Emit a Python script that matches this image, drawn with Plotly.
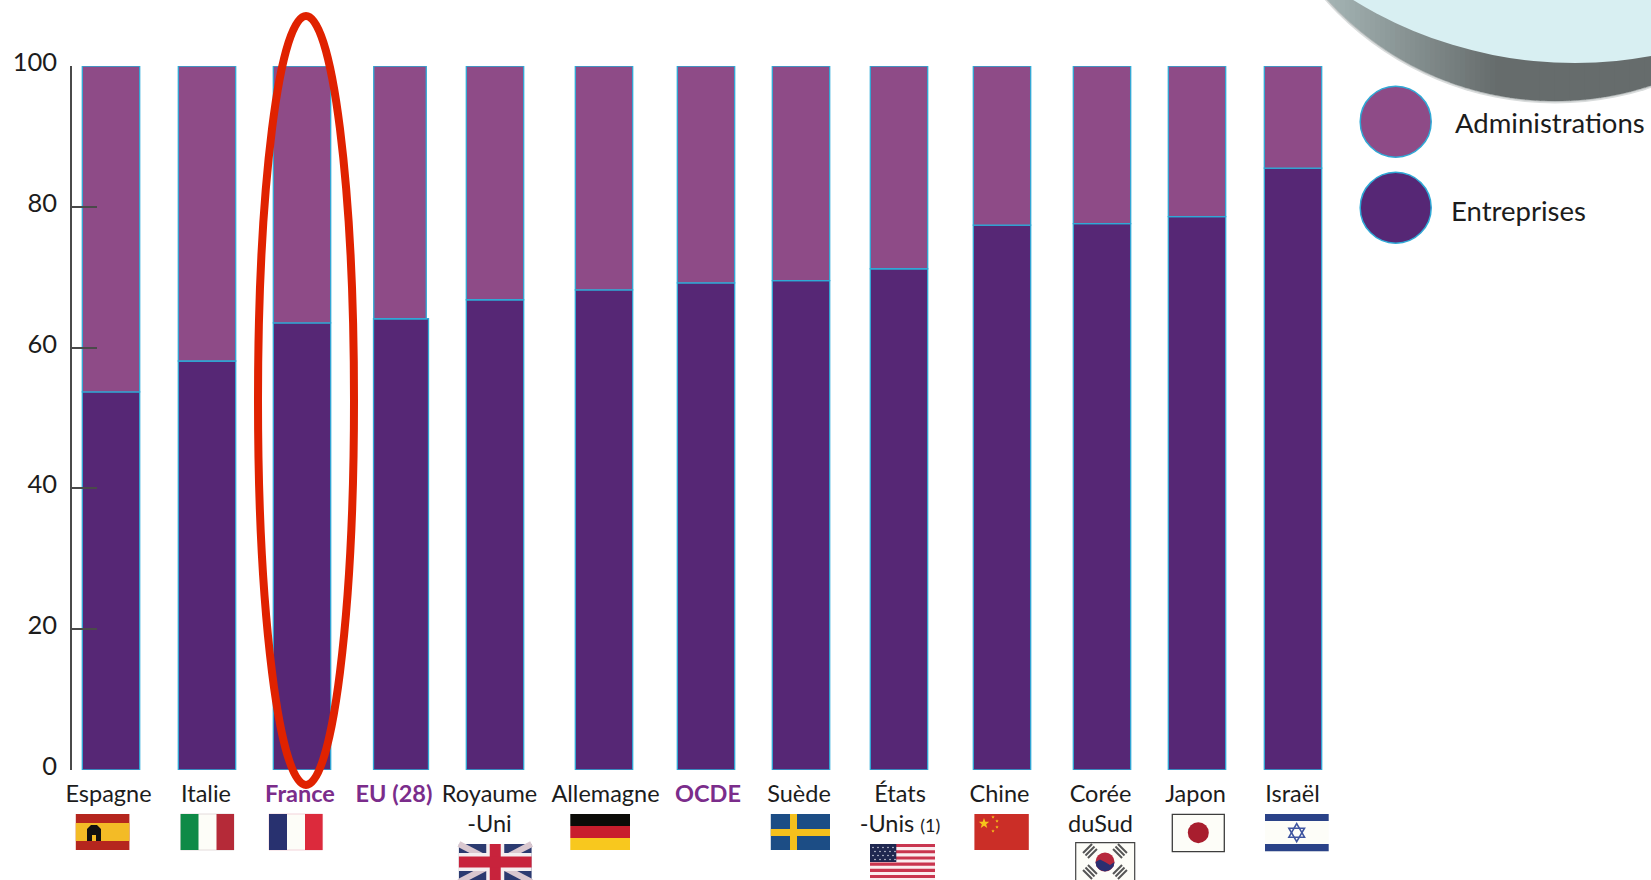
import math
import plotly.graph_objects as go

categories = ["Espagne", "Italie", "France", "EU (28)", "Royaume-Uni", "Allemagne", "OCDE",
              "Suède", "États-Unis (1)", "Chine", "Corée du Sud", "Japon", "Israël"]
tick_labels = ["Espagne", "Italie", "<b>France</b>", "<b>EU (28)</b>", "Royaume<br>-Uni", "Allemagne",
               "<b>OCDE</b>", "Suède", "États<br>-Unis <span style='font-size:18px'>(1)</span>",
               "Chine", "Corée<br>duSud", "Japon", "Israël"]
highlighted = ["France", "EU (28)", "OCDE"]
entreprises = [53.7, 58.1, 63.5, 64.1, 66.8, 68.2, 69.2, 69.5, 71.2, 77.4, 77.6, 78.6, 85.5]
administrations = [46.3, 41.9, 36.5, 35.9, 33.2, 31.8, 30.8, 30.5, 28.8, 22.6, 22.4, 21.4, 14.5]
ent_centers = [0.39, 1.35, 2.30, 3.29, 4.23, 5.32, 6.34, 7.29, 8.27, 9.30, 10.30, 11.25, 12.21]
adm_centers = [0.39, 1.35, 2.30, 3.28, 4.23, 5.32, 6.34, 7.29, 8.27, 9.30, 10.30, 11.25, 12.21]
ent_widths = [0.574, 0.574, 0.574, 0.55, 0.574, 0.574, 0.574, 0.574, 0.574, 0.574, 0.574, 0.574, 0.574]
adm_widths = [0.574, 0.574, 0.574, 0.525, 0.574, 0.574, 0.574, 0.574, 0.574, 0.574, 0.574, 0.574, 0.574]
label_centers = [0.365, 1.34, 2.28, 3.22, 4.175, 5.335, 6.36, 7.27, 8.28, 9.275, 10.285, 11.235, 12.205]
y_ticks = [0, 20, 40, 60, 80, 100]

W, H = 1651, 880
L, T, B = 72, 66, 770
FONT = "Lato"
ADMIN, ENT, EDGE = "#8e4b87", "#562775", "#2fa9d6"
INK = "#1c1c1c"
PURPLE = "#7b2d8b"

def px(x): return (x - L) / (W - L)
def py(y): return (B - y) / (B - T)

shapes = []
def rect(x0, y0, x1, y1, color, line=None, lw=0):
    shapes.append(dict(type="rect", xref="paper", yref="paper", x0=px(x0), x1=px(x1), y0=py(y0), y1=py(y1),
                       fillcolor=color, line=dict(color=line or color, width=lw), layer="above"))
def disc(cx, cy, r, color, line=None, lw=0, ry=None):
    ry = ry or r
    shapes.append(dict(type="circle", xref="paper", yref="paper", x0=px(cx - r), x1=px(cx + r),
                       y0=py(cy - ry), y1=py(cy + ry), fillcolor=color,
                       line=dict(color=line or color, width=lw), layer="above"))
def poly(points, color, line=None, lw=0, close=True, fill=True):
    d = "M" + "L".join(f"{px(a):.5f},{py(b):.5f}" for a, b in points) + ("Z" if close else "")
    shapes.append(dict(type="path", xref="paper", yref="paper", path=d,
                       fillcolor=color if fill else "rgba(0,0,0,0)",
                       line=dict(color=line or color, width=lw), layer="above"))
def star(cx, cy, r, color):
    pts = []
    for i in range(10):
        a = -math.pi / 2 + i * math.pi / 5
        rr = r if i % 2 == 0 else r * 0.42
        pts.append((cx + rr * math.cos(a), cy + rr * math.sin(a)))
    poly(pts, color)

# Magnifier rim in the top right corner
def outer_y(x): return -204.6 + math.sqrt(max(305.6 ** 2 - (x - 1555) ** 2, 0))
disc(1555, -204.6, 308, "#d9dcdc")
disc(1555, -204.6, 306.5, "#b5baba")
step = 5
for x in range(1320, 1655, step):
    t = min(max((x - 1325) / 170, 0), 1)
    c0, c1 = (165, 181, 181), (102, 108, 108)
    col = "rgb(" + ",".join(str(int(a + (b - a) * t)) for a, b in zip(c0, c1)) + ")"
    xa, xb = x, x + step + 0.6
    if outer_y(xb) < -1:
        continue
    poly([(xa, -3), (xb, -3), (xb, outer_y(xb)), ((xa + xb) / 2, outer_y((xa + xb) / 2)), (xa, outer_y(xa))], col)
disc(1575, -359, 422, "#d8eff2")

# Legend discs
disc(1395.7, 121.7, 35.5, ADMIN, EDGE, 1.5)
disc(1395.7, 207.7, 35.5, ENT, EDGE, 1.5)

# Flags
Y0, Y1 = 814, 850
# Spain
rect(75.8, Y0, 129.4, Y1, "#b5261e")
rect(75.8, Y0 + 9, 129.4, Y1 - 9, "#f3bb26")
poly([(87, 841), (87, 829), (91, 825), (97, 825), (101, 829), (101, 841), (96, 841), (96, 835), (92, 835), (92, 841)], "#111111")
# Italy
rect(180.6, Y0, 234, Y1, "#fdfdf8", "#e4dcdc", 1)
rect(180.6, Y0, 198.5, Y1, "#0e8a47")
rect(216.5, Y0, 234, Y1, "#b52a38")
# France
rect(269, Y0, 322.6, Y1, "#fdfdf8", "#f3d3da", 1)
rect(269, Y0, 287, Y1, "#28316f")
rect(305, Y0, 322.6, Y1, "#dc2a3c")
# United Kingdom
ux0, ux1, uy0, uy1 = 458.9, 531.6, 844, 882
ucx, ucy = (ux0 + ux1) / 2, 862
rect(ux0, uy0, ux1, uy1, "#2b3a70")
poly([(ux0, uy0), (ux1, uy1)], "#d9c7cf", "#d9c7cf", 6, close=False, fill=False)
poly([(ux1, uy0), (ux0, uy1)], "#d9c7cf", "#d9c7cf", 6, close=False, fill=False)
rect(ucx - 9, uy0, ucx + 9, uy1, "#f4eef0")
rect(ux0, ucy - 9, ux1, ucy + 9, "#f4eef0")
rect(ucx - 5.5, uy0, ucx + 5.5, uy1, "#c8233c")
rect(ux0, ucy - 5.5, ux1, ucy + 5.5, "#c8233c")
# Germany
rect(570.3, Y0, 630, Y0 + 12, "#0c0c08")
rect(570.3, Y0 + 12, 630, Y0 + 24, "#c81e2d")
rect(570.3, Y0 + 24, 630, Y1, "#f8c81e")
# Sweden
rect(770.8, Y0, 830, Y1, "#1c4d85")
rect(790, Y0, 797, Y1, "#f5c01c")
rect(770.8, 829, 830, 836, "#f5c01c")
# United States
sx0, sx1 = 870, 935
rect(sx0, 844, sx1, 882, "#fbeef0")
for i in range(0, 6):
    rect(sx0, 844 + i * 6.2, sx1, 844 + i * 6.2 + 3.1, "#c9354f")
rect(sx0, 844, 896.3, 862, "#1f2750")
for r_ in range(4):
    for c_ in range(5):
        disc(873 + c_ * 5 + (r_ % 2) * 2, 847.5 + r_ * 4, 0.8, "#d6d8e6")
# China
rect(974.4, Y0, 1028.8, Y1, "#cb2e27")
star(984, 823.5, 5.5, "#f6c51b")
for sx, sy in [(993, 817), (997, 821), (997, 827), (993, 831)]:
    star(sx, sy, 1.8, "#f6c51b")
# South Korea
rect(1075.7, 842.7, 1134.7, 882, "#fdfdf8", "#444444", 1.2)
disc(1105, 862, 9.5, "#b6283c")
poly([(1095.5, 862), (1096.5, 866.5), (1100, 870), (1105, 871.5), (1110, 870), (1113.5, 866.5), (1114.5, 862),
      (1110, 865), (1105, 862), (1100, 859.5)], "#2a2f70")
for cx, cy, ang in [(1090, 851, 1), (1120, 851, -1), (1090, 872, -1), (1120, 872, 1)]:
    for k in (-3.5, 0, 3.5):
        ox, oy = k * 0.7, k * 0.7 * ang
        poly([(cx + ox - 4.5, cy + oy + 4.5 * ang), (cx + ox + 4.5, cy + oy - 4.5 * ang)],
             "#555555", "#555555", 2, close=False, fill=False)
# Japan
rect(1172.3, 814.3, 1224.3, 851.7, "#fdfdf8", "#3d3d3d", 1.3)
disc(1198.3, 832.7, 10.5, "#a81e2e")
# Israel
rect(1265, 813.7, 1328.7, 852, "#fdfdf8")
rect(1265, 814, 1328.7, 821, "#2a4288")
rect(1265, 844, 1328.7, 851.3, "#2a4288")
for sgn in (1, -1):
    poly([(1296.7, 832.7 - 9 * sgn), (1296.7 + 7.8, 832.7 + 4.5 * sgn), (1296.7 - 7.8, 832.7 + 4.5 * sgn)],
         "rgba(0,0,0,0)", "#3f55a0", 1.6, fill=False)

# Red ellipse around France
shapes.append(dict(type="circle", xref="paper", yref="paper", x0=px(258), x1=px(354), y0=py(16), y1=py(785),
                   line=dict(color="#e02200", width=8), fillcolor="rgba(0,0,0,0)", layer="above"))

fig = go.Figure()
fig.add_bar(name="Entreprises", x=ent_centers, y=entreprises, width=ent_widths,
            marker=dict(color=ENT, line=dict(color=EDGE, width=1.3)), showlegend=False, hoverinfo="skip")
fig.add_bar(name="Administrations", x=adm_centers, y=administrations, base=entreprises, width=adm_widths,
            marker=dict(color=ADMIN, line=dict(color=EDGE, width=1.3)), showlegend=False, hoverinfo="skip")

ticktext = [f"<span style='color:{PURPLE}'>{t}</span>" if c in highlighted else t
            for c, t in zip(categories, tick_labels)]

annotations = [
    dict(text="Administrations", xref="paper", yref="paper", x=px(1453), y=py(122), xanchor="left", yanchor="middle",
         showarrow=False, font=dict(family=FONT, size=27.5, color=INK)),
    dict(text="Entreprises", xref="paper", yref="paper", x=px(1449), y=py(210), xanchor="left", yanchor="middle",
         showarrow=False, font=dict(family=FONT, size=27.5, color=INK)),
]

fig.update_layout(
    barmode="overlay", width=W, height=H, autosize=False,
    margin=dict(l=L, r=0, t=T, b=H - B, pad=0),
    paper_bgcolor="white", plot_bgcolor="white", showlegend=False,
    font=dict(family=FONT, color=INK),
    shapes=shapes, annotations=annotations,
    xaxis=dict(range=[0, (W - L) / 100], tickmode="array", tickvals=label_centers, ticktext=ticktext,
               showgrid=False, zeroline=False, showline=False, ticks="", ticklabelstandoff=7,
               tickangle=0, tickfont=dict(family=FONT, size=23.5, color=INK)),
    yaxis=dict(range=[0, 100], tickmode="array", tickvals=y_ticks, showgrid=False, zeroline=False,
               showline=True, linecolor="#4a4a4a", linewidth=1.5, ticks="inside", ticklen=25,
               tickcolor="#4a4a4a", tickwidth=1.5, ticklabelstandoff=8, ticklabelshift=-4,
               tickfont=dict(family=FONT, size=25.5, color=INK)),
)

fig.write_html("out.html", config={"displayModeBar": False},
               post_script="document.body.style.margin='0';document.body.style.overflow='hidden';")
